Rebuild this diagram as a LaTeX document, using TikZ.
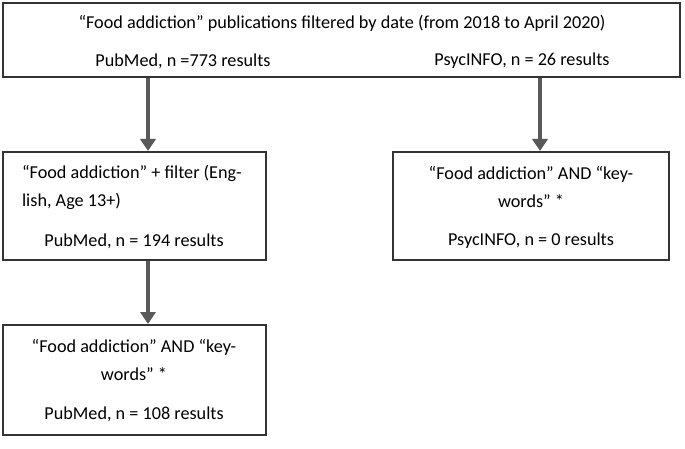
\documentclass[tikz,border=0pt]{standalone}
\usepackage{fontspec}
\setmainfont{Carlito}
\usetikzlibrary{arrows.meta}
\begin{document}
\begin{tikzpicture}[x=1pt,y=-1pt,
  box/.style={draw=black!80,line width=1.3pt},
  txt/.style={font=\fontsize{18.2}{28}\selectfont,align=center,inner sep=0pt},
  arr/.style={draw=black!65,line width=4pt,-{Triangle[length=12pt,width=15pt]}}]
\useasboundingbox (0,0) rectangle (685,449);
\draw[box] (3,3) rectangle (680,77);
\node[txt] (t1) at (342,23) {“Food addiction” publications filtered by date (from 2018 to April 2020)};
\node[txt] (t2) at (183,61) {PubMed, n =773 results};
\node[txt] (t3) at (522,61) {PsycINFO, n = 26 results};
\draw[box] (3,152) rectangle (266,260);
\node[txt,align=left] (b2) at (132,187) {“Food addiction” + filter (Eng-\\lish, Age 13+)};
\node[txt] (b2b) at (134,241) {PubMed, n = 194 results};
\draw[box] (393,152) rectangle (669,260);
\node[txt] (b3) at (531,187) {“Food addiction” AND “key-\\words” *};
\node[txt] (b3b) at (531,241) {PsycINFO, n = 0 results};
\draw[box] (3,325) rectangle (266,435);
\node[txt] (b4) at (134,360) {“Food addiction” AND “key-\\words” *};
\node[txt] (b4b) at (134,414) {PubMed, n = 108 results};
\coordinate (a1) at (148,78); \coordinate (a2) at (148,151);
\coordinate (a3) at (540,78); \coordinate (a4) at (540,151);
\coordinate (a5) at (148,261); \coordinate (a6) at (148,324);
\draw[arr] (a1) -- (a2);
\draw[arr] (a3) -- (a4);
\draw[arr] (a5) -- (a6);
\end{tikzpicture}
\end{document}
